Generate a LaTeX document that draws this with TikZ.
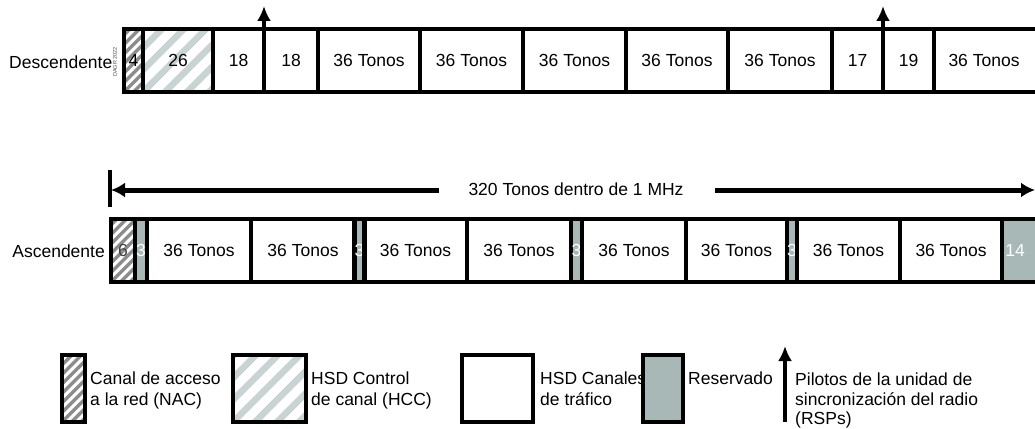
\documentclass[tikz,border=0pt]{standalone}
\usepackage{fontspec}
\setmainfont{Liberation Sans}
\usetikzlibrary{arrows.meta}
\definecolor{nacgray}{RGB}{140,140,140}
\definecolor{hccgray}{RGB}{200,212,212}
\definecolor{resgray}{RGB}{168,184,183}
\tikzset{
  lbl/.style={font=\fontsize{17.5}{21}\selectfont},
  cell/.style={draw, line width=4pt, inner sep=0pt, outer sep=0pt, lbl, minimum height=63pt},
  hatch/.style n args={3}{path picture={
      \foreach \k in {-12,...,14}
        \draw[#2, line width=#3] ([xshift={\k*#1}]path picture bounding box.south west) -- ++(110,-110);}},
  nac/.style={hatch={9.5}{nacgray}{3.2pt}},
  hcc/.style={hatch={22}{hccgray}{6.5pt}},
  res/.style={fill=resgray, text=white, line width=4.5pt},
  pilot/.style={line width=4pt, -{Latex[length=15pt,width=14pt]}},
  spanline/.style={line width=5pt, -{Latex[length=14pt,width=15pt]}},
  legbox/.style={draw, line width=4.5pt, inner sep=0pt, outer sep=0pt, minimum height=67pt},
  legtxt/.style={lbl, align=left, anchor=north west, inner sep=0pt},
}
\newcommand{\topcell}[5][]{\node[cell,#1,minimum width={#4-#3}] (#2) at ({(#3+#4)/2},60.5) {#5};}
\newcommand{\botcell}[5][]{\node[cell,#1,minimum width={#4-#3}] (#2) at ({(#3+#4)/2},250.5) {#5};}
\begin{document}
\begin{tikzpicture}[x=1pt,y=-1pt]
\useasboundingbox (0,0) rectangle (1035,428);
% ---------- Descendente ----------
\node[lbl, anchor=west, inner sep=0pt] (desc) at (9,62) {Descendente};
\node[rotate=90, font=\fontsize{5.5}{6}\selectfont, text=black!70, inner sep=0pt] (code) at (115,62) {DAGR 2022};
\topcell[nac]{d1}{124}{143}{4}
\topcell[hcc]{d2}{143}{213}{26}
\topcell{d3}{213}{264}{18}
\topcell{d4}{264}{318}{18}
\topcell{d5}{318}{420}{36 Tonos}
\topcell{d6}{420}{523}{36 Tonos}
\topcell{d7}{523}{626}{36 Tonos}
\topcell{d8}{626}{728}{36 Tonos}
\topcell{d9}{728}{832}{36 Tonos}
\topcell{d10}{832}{883}{17}
\topcell{d11}{883}{934}{19}
\topcell{d12}{934}{1045}{\hspace*{-11pt}36 Tonos}
\coordinate (p1) at (264,6);
\coordinate (p2) at (883,6);
\draw[pilot] (d3.south east) -- (p1);
\draw[pilot] (d10.south east) -- (p2);
% ---------- span ----------
\node[lbl, inner sep=0pt] (span) at (576,189) {320 Tonos dentro de 1 MHz};
\coordinate (tt) at (110,170);
\coordinate (tb) at (110,207);
\coordinate (L) at (111,190);
\coordinate (R) at (1035,190);
\coordinate (sl) at (439,190);
\coordinate (sr) at (715,190);
\draw[line width=4pt] (tt) -- (tb);
\draw[spanline] (sl) -- (L);
\draw[spanline] (sr) -- (R);
% ---------- Ascendente ----------
\node[lbl, anchor=east, inner sep=0pt] (asc) at (105,251) {Ascendente};
\botcell[nac, text=black!75]{a1}{111}{135}{6}
\botcell[res]{a2}{135}{147}{3}
\botcell{a3}{147}{251}{36 Tonos}
\botcell{a4}{251}{355}{36 Tonos}
\botcell[res]{a5}{355}{364}{3}
\botcell{a6}{364}{467}{36 Tonos}
\botcell{a7}{467}{571}{36 Tonos}
\botcell[res]{a8}{571}{582}{3}
\botcell{a9}{582}{686}{36 Tonos}
\botcell{a10}{686}{787}{36 Tonos}
\botcell[res]{a11}{787}{797}{3}
\botcell{a12}{797}{900}{36 Tonos}
\botcell{a13}{900}{1002}{36 Tonos}
\botcell[res]{a14}{1002}{1060}{\hspace*{-32pt}14}
% ---------- Legend ----------
\node[legbox, nac, minimum width=23pt] (lnac) at (73.5,388.5) {};
\node[legtxt] (tnac) at (90,372) {Canal de acceso\\a la red (NAC)};
\node[legbox, hcc, minimum width=73pt] (lhcc) at (269.5,388.5) {};
\node[legtxt] (thcc) at (311,372) {HSD Control\\de canal (HCC)};
\node[legbox, minimum width=71pt] (ltra) at (497.5,388.5) {};
\node[legtxt] (ttra) at (540,372) {HSD Canales\\de tráfico};
\node[legbox, fill=resgray, minimum width=40pt] (lres) at (663,388.5) {};
\node[legtxt] (tres) at (688,372) {Reservado};
\coordinate (lab) at (785,422);
\coordinate (lat) at (785,346);
\draw[pilot] (lab) -- (lat);
\node[legtxt, font=\fontsize{17.5}{19.5}\selectfont] (trsp) at (795,373) {Pilotos de la unidad de\\sincronización del radio\\(RSPs)};
\end{tikzpicture}
\end{document}
